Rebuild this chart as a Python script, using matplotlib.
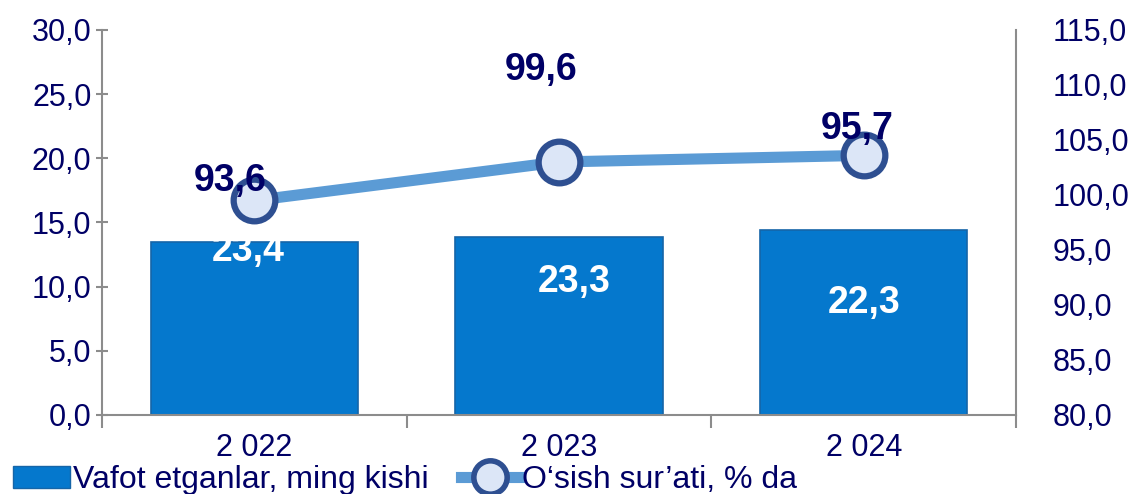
import numpy as np
import matplotlib.pyplot as plt
from matplotlib.lines import Line2D
from matplotlib.patches import Patch

plt.rcParams['font.family'] = ['Liberation Sans', 'DejaVu Sans']

years = ['2 022', '2 023', '2 024']
deaths_bar = [13.5, 13.9, 14.4]          # plotted bar heights, left axis
deaths_labels = ['23,4', '23,3', '22,3']
growth_line = [99.5, 103.0, 103.6]      # plotted line values, right axis
growth_labels = ['93,6', '99,6', '95,7']

navy = '#000066'
bar_col = '#0578CD'
line_col = '#5B9BD5'
grey = '#8C8C8C'

fig = plt.figure(figsize=(11.36, 4.94), dpi=100)
ax = fig.add_axes([0.0898, 0.16, 0.8046, 0.7793])
ax2 = ax.twinx()

x = np.arange(len(years))
ax.bar(x, deaths_bar, width=0.68, color=bar_col, edgecolor='#1565A8', linewidth=1.2, zorder=2)
ax.set_xlim(-0.5, 2.5)
ax.set_ylim(0, 30)
ax.set_yticks(np.arange(0, 30.1, 5))
ax.set_yticklabels([f'{v:.1f}'.replace('.', ',') for v in np.arange(0, 30.1, 5)])
ax.tick_params(axis='y', colors=grey, labelcolor=navy, labelsize=22, length=9, width=1.5, direction='inout', pad=3)

# category boundaries as major ticks, centers as minor inward ticks
ax.set_xticks([-0.5, 0.5, 1.5, 2.5])
ax.set_xticklabels([])
ax.set_xticks(x, minor=True)
ax.set_xticklabels(years, minor=True)
ax.tick_params(axis='x', which='major', colors=grey, length=9, width=1.5, direction='out')
ax.tick_params(axis='x', which='minor', colors=grey, labelcolor=navy, labelsize=22, length=7, width=1.5, direction='in', pad=13)

for s in ['left', 'bottom']:
    ax.spines[s].set_color(grey)
    ax.spines[s].set_linewidth(1.5)
ax.spines['top'].set_visible(False)
ax.spines['right'].set_visible(False)

label_x = [-0.02, 1.05, 2.0]
label_y = [12.8, 10.4, 8.7]
for xp, yp, lab in zip(label_x, label_y, deaths_labels):
    ax.text(xp, yp, lab, ha='center', va='center',
            color='white', fontsize=27, fontweight='bold', zorder=5)

ax2.plot(x, growth_line, color=line_col, linewidth=8, solid_capstyle='butt', zorder=3)
ax2.plot(x, growth_line, linestyle='none', marker='o', markersize=30,
         markerfacecolor='#DCE6F7', markeredgecolor='#2E4F91', markeredgewidth=4.5, zorder=4)
ax2.set_ylim(80, 115)
ax2.set_yticks(np.arange(80, 115.1, 5))
ax2.set_yticklabels([f'{v:.1f}'.replace('.', ',') for v in np.arange(80, 115.1, 5)])
ax2.tick_params(axis='y', length=0, labelcolor=navy, labelsize=22, pad=26)
for s in ['left', 'top', 'bottom']:
    ax2.spines[s].set_visible(False)
ax2.spines['right'].set_color(grey)
ax2.spines['right'].set_linewidth(1.5)

gl_pos = [(-0.08, 101.3), (0.94, 111.4), (1.98, 106.0)]
for (xp, yp), lab in zip(gl_pos, growth_labels):
    ax2.text(xp, yp, lab, ha='center', va='center', color=navy, fontsize=27, fontweight='bold', zorder=6)

handles = [Patch(facecolor=bar_col, edgecolor='#1565A8'),
           Line2D([], [], color=line_col, linewidth=8, marker='o', markersize=24,
                  markerfacecolor='#DCE6F7', markeredgecolor='#2E4F91', markeredgewidth=4)]
fig.legend(handles, ['Vafot etganlar, ming kishi', 'O‘sish sur’ati, % da'],
           loc='center left', bbox_to_anchor=(0.0, 0.028), ncol=2, frameon=False,
           fontsize=23, labelcolor=navy, handlelength=1.8, handletextpad=0.1,
           columnspacing=1.0, borderaxespad=0)

fig.savefig('out.png', dpi=100)
